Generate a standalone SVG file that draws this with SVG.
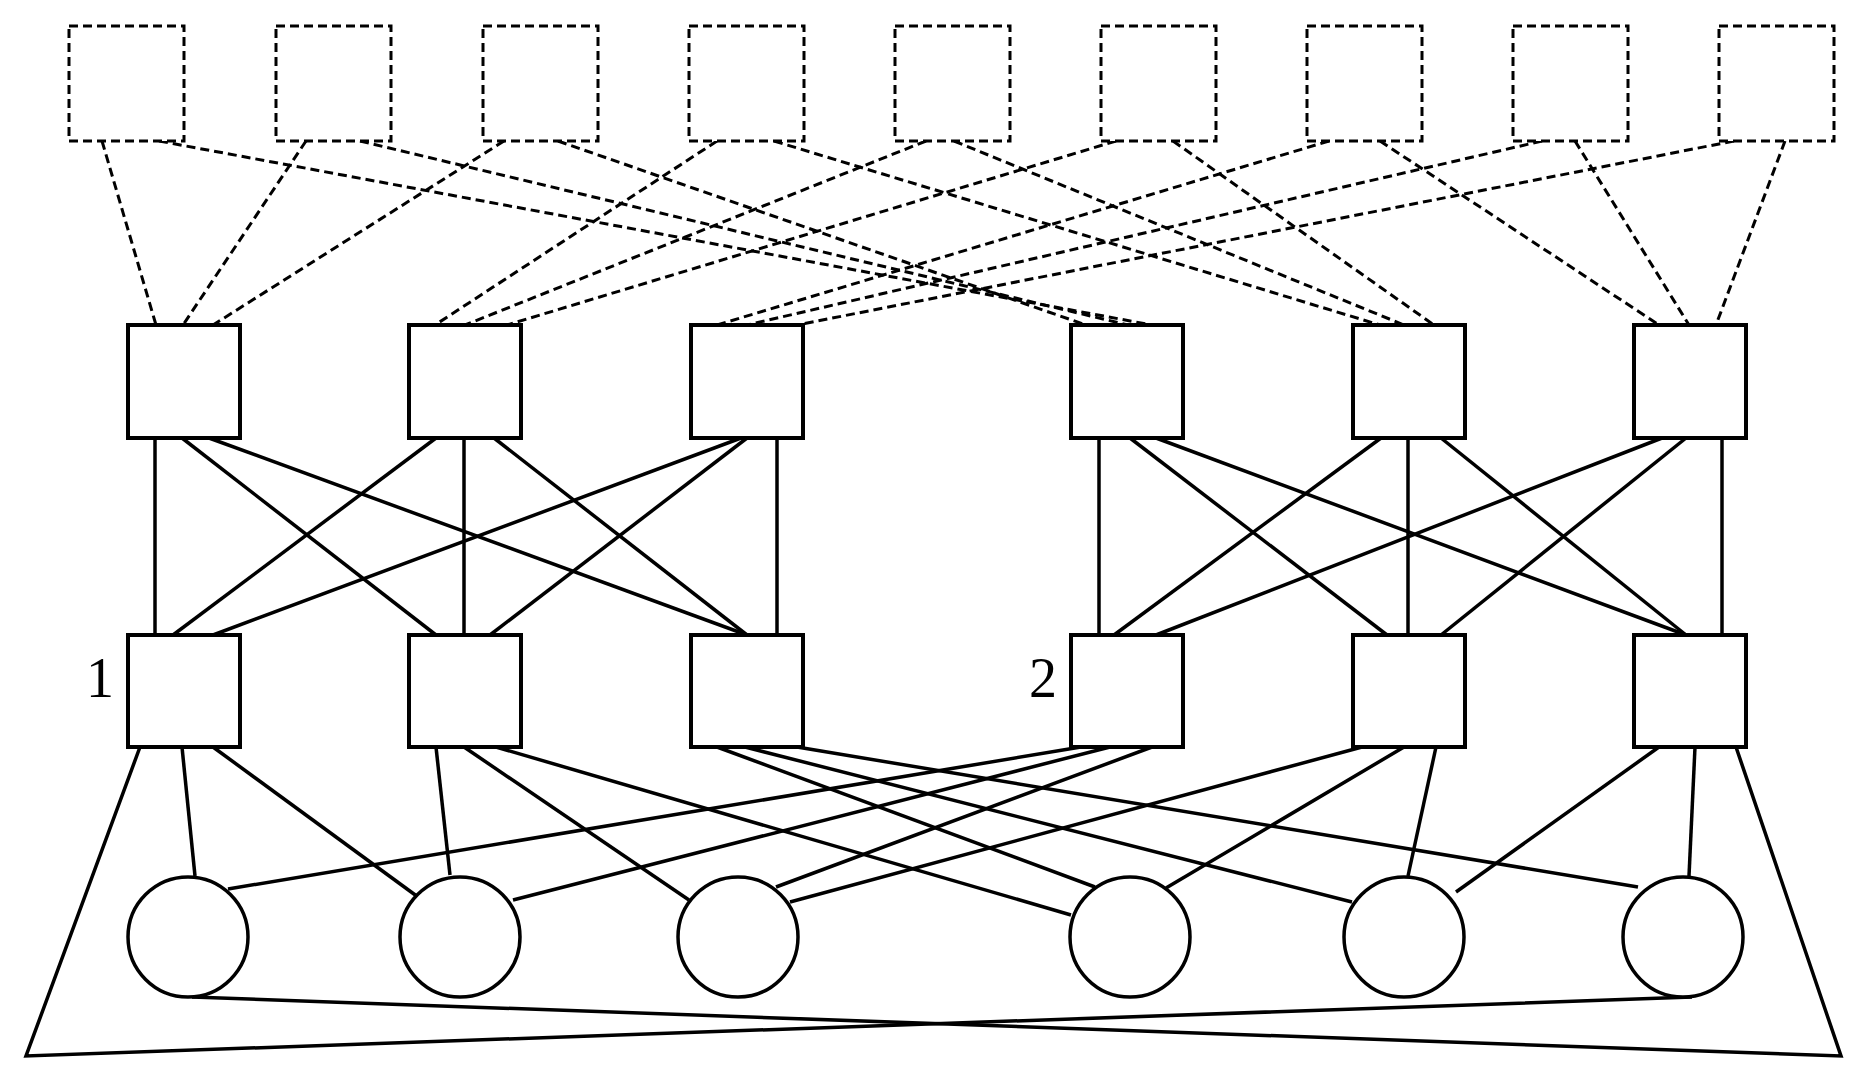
<svg xmlns="http://www.w3.org/2000/svg" width="1871" height="1074" viewBox="0 0 1871 1074">
<style>
.top{fill:#fff;stroke:#000;stroke-width:3;stroke-dasharray:9 5}
.box{fill:#fff;stroke:#000;stroke-width:4}
.c{fill:#fff;stroke:#000;stroke-width:3.5}
.d line{stroke:#000;stroke-width:3;stroke-dasharray:9 5}
.s line,.s polyline{stroke:#000;stroke-width:3.5;fill:none}
.lbl{font-family:"Liberation Serif",serif;font-size:56px;fill:#000}
</style>
<rect width="1871" height="1074" fill="#fff"/>
<g id="connectors">
<g class="d">
<line x1="102" y1="141" x2="156" y2="325"/>
<line x1="306" y1="141" x2="183" y2="325"/>
<line x1="504" y1="141" x2="213" y2="325"/>
<line x1="717" y1="141" x2="435" y2="325"/>
<line x1="926" y1="141" x2="465" y2="325"/>
<line x1="1116" y1="141" x2="507" y2="325"/>
<line x1="1329" y1="141" x2="717" y2="325"/>
<line x1="1542" y1="141" x2="747" y2="325"/>
<line x1="1734" y1="141" x2="797" y2="325"/>
<line x1="159" y1="141" x2="1152" y2="325"/>
<line x1="360" y1="141" x2="1128" y2="325"/>
<line x1="558" y1="141" x2="1086" y2="325"/>
<line x1="774" y1="141" x2="1380" y2="325"/>
<line x1="954" y1="141" x2="1404" y2="325"/>
<line x1="1173" y1="141" x2="1434" y2="325"/>
<line x1="1380" y1="141" x2="1659" y2="325"/>
<line x1="1575" y1="141" x2="1689" y2="325"/>
<line x1="1785" y1="141" x2="1716" y2="325"/>
</g>
<g class="s">
<line x1="155" y1="438" x2="155" y2="635"/>
<line x1="182" y1="438" x2="436" y2="635"/>
<line x1="209" y1="438" x2="747" y2="635"/>
<line x1="436" y1="438" x2="173" y2="635"/>
<line x1="464" y1="438" x2="464" y2="635"/>
<line x1="494" y1="438" x2="747" y2="635"/>
<line x1="741" y1="438" x2="213" y2="635"/>
<line x1="747" y1="438" x2="490" y2="635"/>
<line x1="777" y1="438" x2="777" y2="635"/>
<line x1="1099" y1="438" x2="1099" y2="635"/>
<line x1="1130" y1="438" x2="1387" y2="635"/>
<line x1="1156" y1="438" x2="1686" y2="635"/>
<line x1="1381" y1="438" x2="1114" y2="635"/>
<line x1="1408" y1="438" x2="1408" y2="635"/>
<line x1="1441" y1="438" x2="1686" y2="635"/>
<line x1="1662" y1="438" x2="1156" y2="635"/>
<line x1="1686" y1="438" x2="1441" y2="635"/>
<line x1="1722" y1="438" x2="1722" y2="635"/>
<line x1="182" y1="747" x2="195" y2="876"/>
<line x1="213" y1="747" x2="418" y2="897"/>
<line x1="436" y1="747" x2="450" y2="875"/>
<line x1="464" y1="747" x2="689" y2="900"/>
<line x1="496" y1="747" x2="1071" y2="915"/>
<line x1="717" y1="747" x2="1095" y2="887"/>
<line x1="745" y1="747" x2="1352" y2="902"/>
<line x1="797" y1="747" x2="1638" y2="887"/>
<line x1="1081" y1="747" x2="228" y2="889"/>
<line x1="1110" y1="747" x2="513" y2="900"/>
<line x1="1152" y1="747" x2="776" y2="887"/>
<line x1="1362" y1="747" x2="790" y2="902"/>
<line x1="1404" y1="747" x2="1166" y2="888"/>
<line x1="1436" y1="747" x2="1408" y2="876"/>
<line x1="1659" y1="747" x2="1456" y2="892"/>
<line x1="1695" y1="747" x2="1689" y2="876"/>
<polyline points="140,747 26,1056 1692,997"/>
<polyline points="1736,747 1841,1056 192,997"/>
</g>
</g>
<g id="top-nodes">
<rect id="t1" class="top" x="69" y="26" width="115" height="115"/>
<rect id="t2" class="top" x="276" y="26" width="115" height="115"/>
<rect id="t3" class="top" x="483" y="26" width="115" height="115"/>
<rect id="t4" class="top" x="689" y="26" width="115" height="115"/>
<rect id="t5" class="top" x="895" y="26" width="115" height="115"/>
<rect id="t6" class="top" x="1101" y="26" width="115" height="115"/>
<rect id="t7" class="top" x="1307" y="26" width="115" height="115"/>
<rect id="t8" class="top" x="1513" y="26" width="115" height="115"/>
<rect id="t9" class="top" x="1719" y="26" width="115" height="115"/>
</g>
<g id="mid-nodes">
<rect id="m1" class="box" x="128" y="325" width="112" height="113"/>
<rect id="m2" class="box" x="409" y="325" width="112" height="113"/>
<rect id="m3" class="box" x="691" y="325" width="112" height="113"/>
<rect id="m4" class="box" x="1071" y="325" width="112" height="113"/>
<rect id="m5" class="box" x="1353" y="325" width="112" height="113"/>
<rect id="m6" class="box" x="1634" y="325" width="112" height="113"/>
</g>
<g id="low-nodes">
<rect id="l1" class="box" x="128" y="635" width="112" height="112"/>
<rect id="l2" class="box" x="409" y="635" width="112" height="112"/>
<rect id="l3" class="box" x="691" y="635" width="112" height="112"/>
<rect id="l4" class="box" x="1071" y="635" width="112" height="112"/>
<rect id="l5" class="box" x="1353" y="635" width="112" height="112"/>
<rect id="l6" class="box" x="1634" y="635" width="112" height="112"/>
</g>
<g id="circles">
<circle id="c1" class="c" cx="188" cy="937" r="60"/>
<circle id="c2" class="c" cx="460" cy="937" r="60"/>
<circle id="c3" class="c" cx="738" cy="937" r="60"/>
<circle id="c4" class="c" cx="1130" cy="937" r="60"/>
<circle id="c5" class="c" cx="1404" cy="937" r="60"/>
<circle id="c6" class="c" cx="1683" cy="937" r="60"/>
</g>
<g id="labels">
<text class="lbl" x="86" y="697">1</text>
<text class="lbl" x="1029" y="697">2</text>
</g>
</svg>
